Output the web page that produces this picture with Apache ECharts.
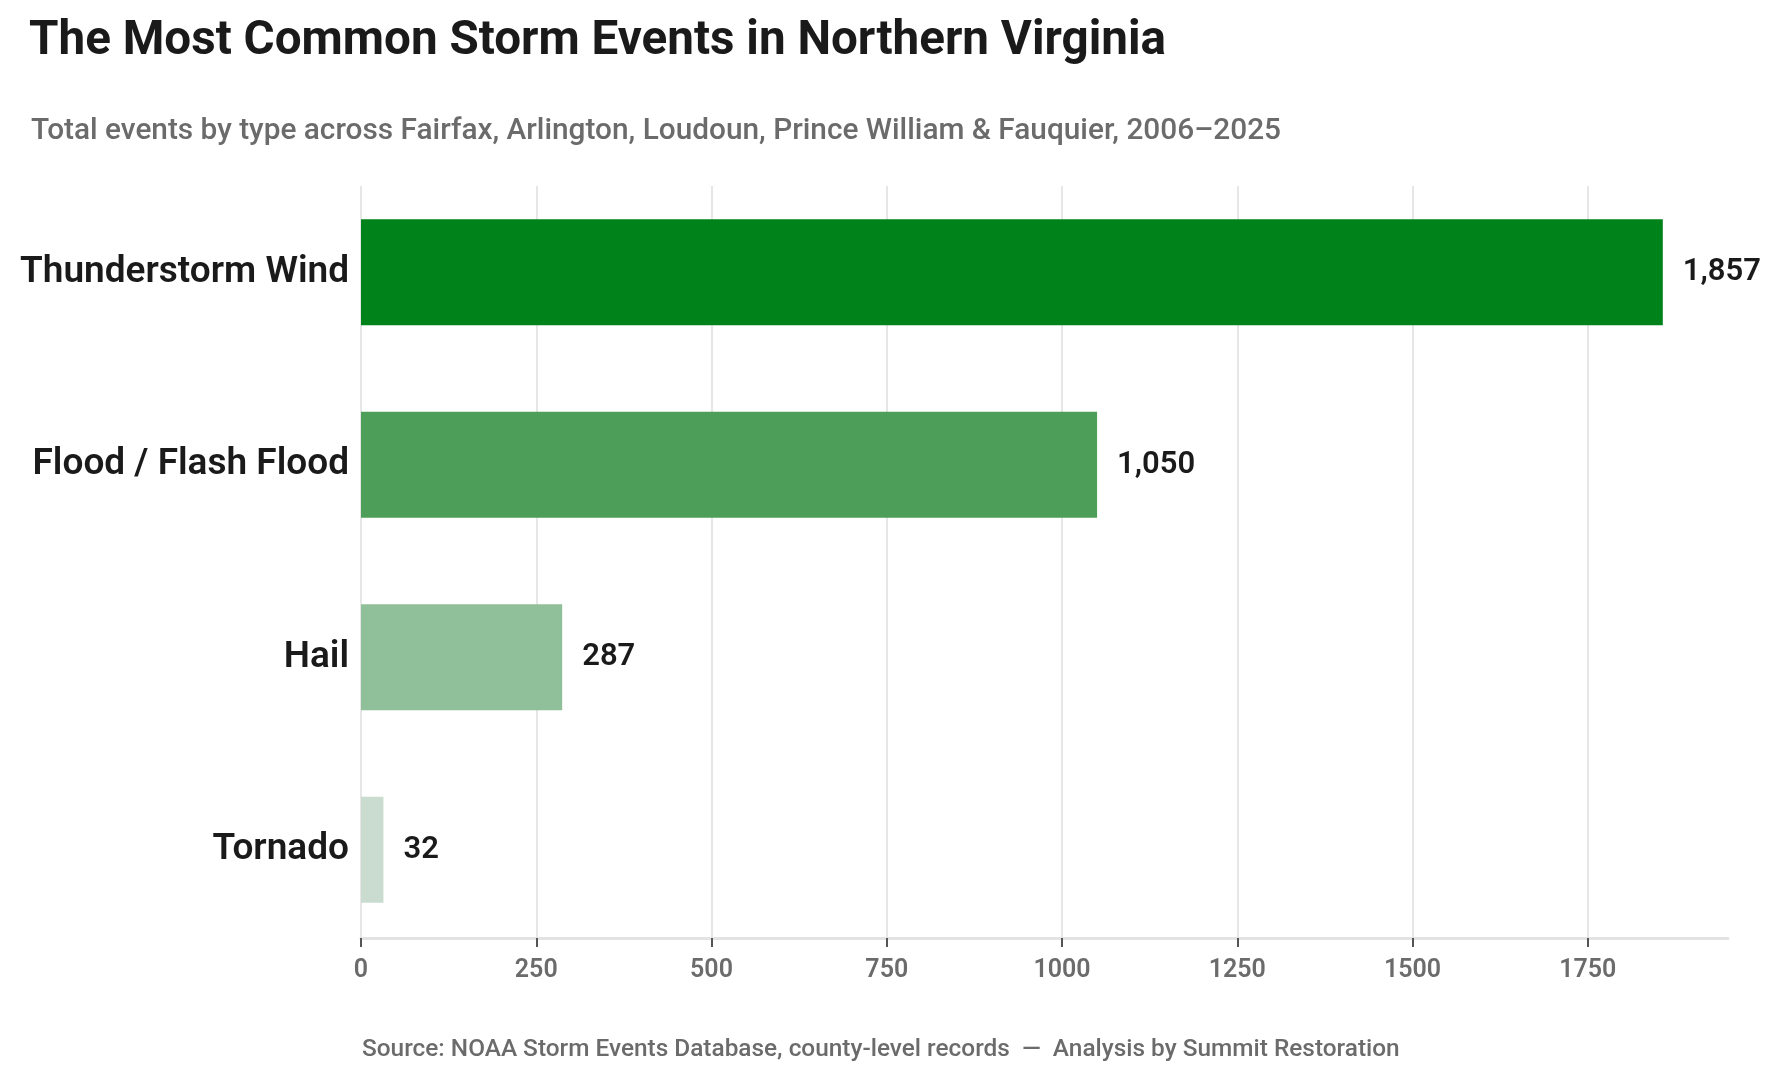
<!DOCTYPE html>
<html>
<head>
<meta charset="utf-8">
<title>The Most Common Storm Events in Northern Virginia</title>
<script src="https://cdn.jsdelivr.net/npm/echarts@6/dist/echarts.min.js"></script>
<style>
  html, body { margin: 0; padding: 0; background: #fff; }
  #chart { width: 1780px; height: 1082px; }
</style>
</head>
<body>
<div id="chart"></div>
<script>
// data
const eventTypes = ['Thunderstorm Wind', 'Flood / Flash Flood', 'Hail', 'Tornado'];
const eventCounts = [1857, 1050, 287, 32];
const axisMax = 1950;
const tickStep = 250;
const tickValues = [0, 250, 500, 750, 1000, 1250, 1500, 1750];

// one shade of green per bar, darkest for the biggest
const barPalette = ['#00821a', '#4d9e59', '#90c09a', '#c9dccf'];

const FONT = 'Roboto';

const myChart = echarts.init(document.getElementById('chart'));

myChart.setOption({
    backgroundColor: '#ffffff',
    animation: false,
    title: [
        {
            text: 'The Most Common Storm Events in Northern Virginia',
            left: 24,
            top: 13,
            textStyle: { fontFamily: FONT, fontSize: 47.6, fontWeight: 'bold', color: '#1a1a1a' }
        },
        {
            text: 'Total events by type across Fairfax, Arlington, Loudoun, Prince William & Fauquier, 2006\u20132025',
            left: 26,
            top: 112,
            textStyle: { fontFamily: FONT, fontSize: 29.8, fontWeight: 500, color: '#6b6b6b' }
        },
        {
            // source line under the axis
            text: 'Source: NOAA Storm Events Database, county-level records  \u2014  Analysis by Summit Restoration',
            left: 357,
            top: 1033,
            textStyle: { fontFamily: FONT, fontSize: 24.4, fontWeight: 500, color: '#6b6b6b' }
        }
    ],
    grid: [
        // bars
        { left: 361, right: 52, top: 176, bottom: 136 },
        // gridlines only (a bit shorter than the category bands)
        { left: 361, right: 52, top: 186, bottom: 144 }
    ],
    xAxis: [
        {
            type: 'value',
            gridIndex: 0,
            min: 0,
            max: axisMax,
            interval: tickStep,
            offset: -8,
            axisLine: { show: true, lineStyle: { color: '#e3e3e3', width: 3 } },
            axisTick: {
                show: true,
                length: 9,
                customValues: tickValues,
                lineStyle: { color: '#555555', width: 2 }
            },
            splitLine: { show: false },
            axisLabel: {
                margin: 20,
                customValues: tickValues,
                fontFamily: FONT,
                fontSize: 25,
                fontWeight: 600,
                color: '#6b6b6b',
                formatter: v => String(v)
            }
        },
        {
            type: 'value',
            gridIndex: 1,
            min: 0,
            max: axisMax,
            interval: tickStep,
            axisLine: { show: false },
            axisTick: { show: false },
            axisLabel: { show: false },
            splitLine: { show: true, showMaxLine: false, lineStyle: { color: '#e6e6e6', width: 2 } }
        }
    ],
    yAxis: [
        {
            type: 'category',
            gridIndex: 0,
            data: eventTypes,
            inverse: true,
            axisLine: { show: false },
            axisTick: { show: false },
            splitLine: { show: false },
            axisLabel: {
                margin: 12,
                fontFamily: FONT,
                fontSize: 37,
                fontWeight: 600,
                color: '#1a1a1a'
            }
        },
        {
            type: 'value',
            gridIndex: 1,
            show: false
        }
    ],
    series: [
        {
            name: 'Events',
            type: 'bar',
            xAxisIndex: 0,
            yAxisIndex: 0,
            barWidth: 106,
            data: eventCounts.map((v, i) => ({
                value: v,
                itemStyle: { color: barPalette[i] }
            })),
            label: {
                show: true,
                position: 'right',
                distance: 20,
                fontFamily: FONT,
                fontSize: 31,
                fontWeight: 600,
                color: '#1a1a1a',
                formatter: p => p.value.toLocaleString('en-US')
            }
        }
    ]
});
</script>
</body>
</html>
